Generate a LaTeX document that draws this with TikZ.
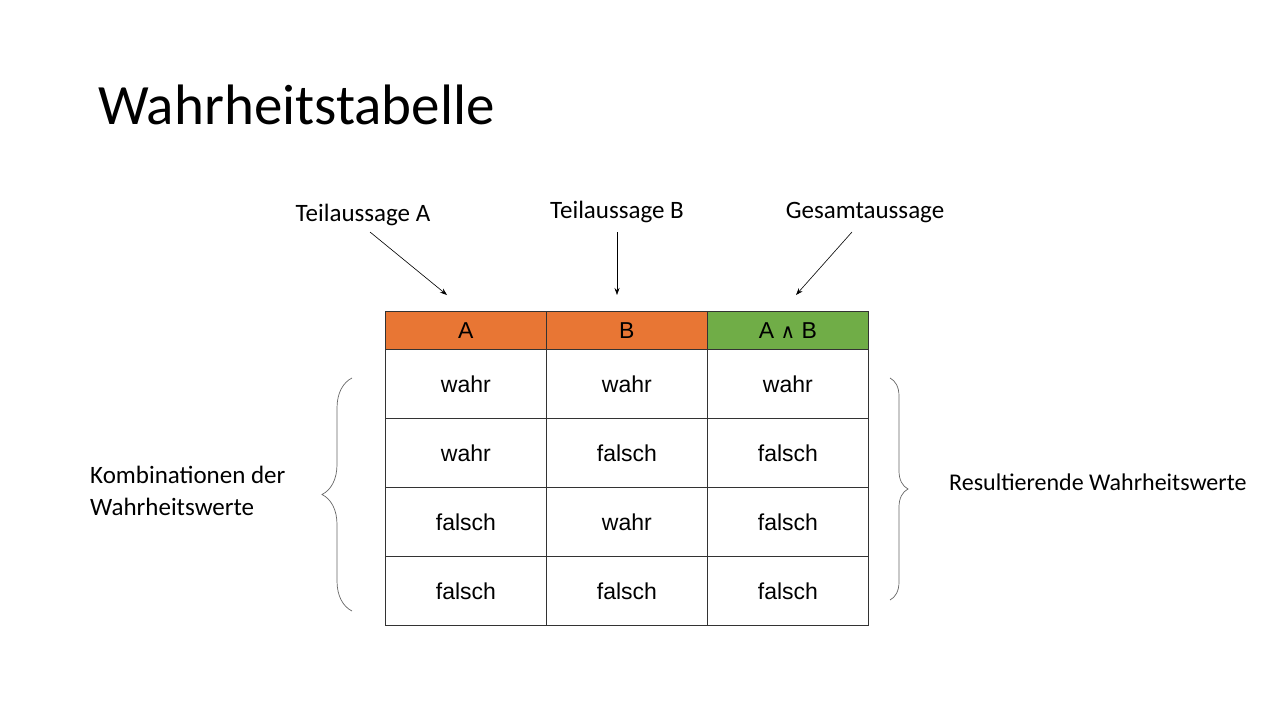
\documentclass[tikz,border=0pt]{standalone}
\usepackage{fontspec}
\setmainfont{Carlito}
\newfontfamily\arial{Liberation Sans}
\newfontfamily\dejavu{DejaVu Sans}
\usetikzlibrary{decorations.pathreplacing,arrows.meta}
\definecolor{hdor}{RGB}{232,118,52}
\definecolor{hdgr}{RGB}{112,173,71}
\begin{document}
\begin{tikzpicture}[x=1pt,y=-1pt,
 cell/.style={draw=black!80,line width=0.8pt,minimum width=161pt,minimum height=69pt,inner sep=0,font=\arial\fontsize{23}{27}\selectfont,anchor=north west},
 hd/.style={cell,minimum height=38pt},
 lbl/.style={font=\fontsize{25}{30}\selectfont,inner sep=0},
 arr/.style={-{Stealth[length=7pt,width=5pt]},line width=0.6pt},
 br/.style={decorate,decoration={brace,amplitude=14pt},draw=black!60,line width=0.7pt}]
\useasboundingbox (0,0) rectangle (1280,720);
\node[anchor=west,font=\fontsize{57}{66}\selectfont,inner sep=0] (title) at (98,105) {Wahrheitstabelle};
\node[hd,fill=hdor] (hA) at (385,311) {A};
\node[hd,fill=hdor] (hB) at (546,311) {B};
\node[hd,fill=hdgr] (hC) at (707,311) {A {\dejavu\fontsize{20}{24}\selectfont ∧} B};
\foreach \r/\a/\b/\c in {0/wahr/wahr/wahr,1/wahr/falsch/falsch,2/falsch/wahr/falsch,3/falsch/falsch/falsch}{
 \node[cell] (a\r) at (385,349+69*\r) {\a};
 \node[cell] (b\r) at (546,349+69*\r) {\b};
 \node[cell] (c\r) at (707,349+69*\r) {\c};
}
\node[lbl] (tA) at (363,215) {Teilaussage A};
\node[lbl] (tB) at (617,212) {Teilaussage B};
\node[lbl] (tC) at (865,213) {Gesamtaussage};
\coordinate (eA) at (447,295);
\coordinate (eB) at (617,295);
\coordinate (eC) at (796,295);
\coordinate (sA) at (370,232);
\coordinate (sB) at (617,232);
\coordinate (sC) at (852,232);
\draw[arr] (sA) -- (eA);
\draw[arr] (sB) -- (eB);
\draw[arr] (sC) -- (eC);
\coordinate (l1) at (352,611); \coordinate (l2) at (352,378);
\draw[br,decoration={amplitude=30pt}] (l1) -- (l2);
\coordinate (r1) at (890,378); \coordinate (r2) at (890,600);
\draw[br,decoration={amplitude=18pt}] (r1) -- (r2);
\node[lbl,anchor=west,align=left] (kl) at (90,491) {Kombinationen der\\[2pt]Wahrheitswerte};
\node[lbl,anchor=west,font=\fontsize{24}{28}\selectfont] (rl) at (949,482) {Resultierende Wahrheitswerte};
\end{tikzpicture}
\end{document}
